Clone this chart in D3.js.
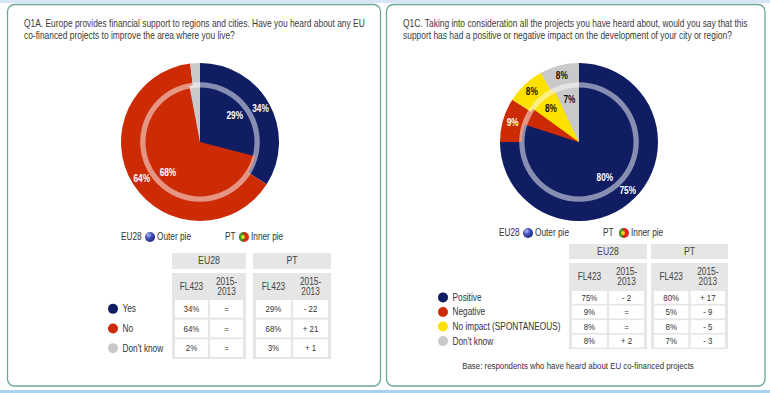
<!DOCTYPE html>
<html><head><meta charset="utf-8">
<script src="https://cdn.jsdelivr.net/npm/d3@7"></script>
<style>
html,body{margin:0;padding:0;background:#fff;}
svg text{font-family:"Liberation Sans",Arial,sans-serif;}
</style></head>
<body><svg id="c" width="770" height="393"></svg>
<script>
// ---- data ----
const q1aTitle = ["Q1A. Europe provides financial support to regions and cities. Have you heard about any EU",
                  "co-financed projects to improve the area where you live?"];
const q1aCategories = ["Yes", "No", "Don't know"];
const q1aEU28 = [34, 64, 2];
const q1aPT = [29, 68, 3];
const q1aEU28Trend = ["=", "=", "="];
const q1aPTTrend = ["- 22", "+ 21", "+ 1"];

const q1cTitle = ["Q1C. Taking into consideration all the projects you have heard about, would you say that this",
                  "support has had a positive or negative impact on the development of your city or region?"];
const q1cCategories = ["Positive", "Negative", "No impact (SPONTANEOUS)", "Don't know"];
const q1cEU28 = [75, 9, 8, 8];
const q1cPT = [80, 5, 8, 7];
const q1cEU28Trend = ["- 2", "=", "=", "+ 2"];
const q1cPTTrend = ["+ 17", "- 9", "- 5", "- 3"];

const groupLabels = ["EU28", "PT"];
const subLabels = ["FL423", "2015-\n2013"];
const baseNote = "Base: respondents who have heard about EU co-financed projects";

const q1aColors = ["#101d63", "#cc2b05", "#c9c9cb"];
const q1cColors = ["#101d63", "#cc2b05", "#fde100", "#c9c9cb"];
const q1cLabelColors = ["#fff", "#fff", "#111", "#111"];

// ---- drawing ----
const svg = d3.select("#c");
const defs = svg.append("defs");
const g1 = defs.append("radialGradient").attr("id","blueball").attr("cx","35%").attr("cy","30%").attr("r","70%");
g1.append("stop").attr("offset","0%").attr("stop-color","#b8c0f0");
g1.append("stop").attr("offset","45%").attr("stop-color","#4a57c0");
g1.append("stop").attr("offset","100%").attr("stop-color","#1d2680");
const clip = defs.append("clipPath").attr("id","flagclip");
clip.append("circle").attr("r",5);

// top & bottom bands
svg.append("rect").attr("x",0).attr("y",0).attr("width",770).attr("height",3).attr("fill","#d6e7f3");
svg.append("rect").attr("x",0).attr("y",390).attr("width",770).attr("height",3).attr("fill","#a9d2ef");

function panel(x0, x1) {
  svg.append("rect").attr("x",x0).attr("y",4.5).attr("width",x1-x0).attr("height",381.5)
    .attr("rx",7).attr("fill","#fff").attr("stroke","#6aa898").attr("stroke-width",1.3);
}
panel(7.5, 380.5);
panel(386.5, 765);

function title(x, lines, len) {
  const t = svg.append("text").attr("x",x).attr("y",27.5).attr("font-size",10).attr("fill","#3a3a3a").attr("data-len",len);
  lines.forEach((l,i)=>t.append("tspan").attr("x",x).attr("dy", i?12:0).text(l));
}
title(24, q1aTitle, 341);
title(403, q1cTitle, 345);

function pies(cx, cy, outer, inner, colors, labelColors) {
  const g = svg.append("g").attr("transform",`translate(${cx},${cy})`);
  const pie = d3.pie().sort(null).value(d=>d);
  const arcO = d3.arc().innerRadius(0).outerRadius(79);
  const arcI = d3.arc().innerRadius(0).outerRadius(57);
  const lblO = d3.arc().innerRadius(69).outerRadius(69);
  const lblI = d3.arc().innerRadius(44).outerRadius(44);
  const po = pie(outer), pi = pie(inner);
  g.selectAll("path.o").data(po).join("path").attr("class","o").attr("d",arcO).attr("fill",(d,i)=>colors[i]);
  g.selectAll("path.i").data(pi).join("path").attr("class","i").attr("d",arcI).attr("fill",(d,i)=>colors[i]);
  g.append("path").attr("d", d3.arc().innerRadius(54.5).outerRadius(59.8).startAngle(0).endAngle(2*Math.PI)())
    .attr("fill","#fff").attr("fill-opacity",0.5);
  const lab = (data, arc) => g.append("g").selectAll("text").data(data.filter(d=>d.data>5)).join("text")
    .attr("transform",d=>`translate(${arc.centroid(d)})`)
    .attr("text-anchor","middle").attr("dy","0.35em")
    .attr("font-size",10).attr("font-weight","bold")
    .attr("fill",d=>labelColors[d.index])
    .text(d=>d.data+"%");
  lab(po, lblO); lab(pi, lblI);
}
pies(200, 142, q1aEU28, q1aPT, q1aColors, ["#fff","#fff","#111"]);
pies(579, 142, q1cEU28, q1cPT, q1cColors, q1cLabelColors);

function flag(x, y) {
  const g = svg.append("g").attr("transform",`translate(${x},${y})`);
  const f = g.append("g").attr("clip-path","url(#flagclip)");
  f.append("rect").attr("x",-5).attr("y",-5).attr("width",10).attr("height",10).attr("fill","#e0261c");
  f.append("rect").attr("x",-5).attr("y",-5).attr("width",4).attr("height",10).attr("fill","#3a9a2a");
  g.append("circle").attr("cx",-1).attr("cy",0).attr("r",2).attr("fill","#f2d21c");
}
function legend(x, y, pos) {
  const t = (xx, s) => svg.append("text").attr("x",xx).attr("y",y+3.5).attr("font-size",10).attr("fill","#333").text(s);
  t(x + pos[0], groupLabels[0]);
  svg.append("circle").attr("cx",x+pos[1]).attr("cy",y).attr("r",5).attr("fill","url(#blueball)");
  t(x + pos[2], "Outer pie");
  t(x + pos[3], groupLabels[1]);
  flag(x+pos[4], y);
  t(x + pos[5], "Inner pie");
}
legend(0, 237, [121, 150, 157, 225, 244, 251]);
legend(0, 233, [499, 528, 535, 603, 624, 631]);

function table(cfg) {
  const {cats, colors, vals, hdrY, hdrH, blockY, blockH, rowY0, rowY1, groups, legX, subY} = cfg;
  const y = d3.scaleBand().domain(cats).range([rowY0, rowY1]).paddingInner(cfg.pad).paddingOuter(0);
  groups.forEach((gr, gi) => {
    svg.append("rect").attr("x",gr.x0).attr("y",hdrY).attr("width",gr.x1-gr.x0).attr("height",hdrH).attr("fill","#e6e6e6");
    svg.append("text").attr("x",(gr.x0+gr.x1)/2).attr("y",hdrY+hdrH/2+3.5).attr("text-anchor","middle")
      .attr("font-size",10.5).attr("fill","#444").text(groupLabels[gi]);
    svg.append("rect").attr("x",gr.x0).attr("y",blockY).attr("width",gr.x1-gr.x0).attr("height",blockH).attr("fill","#e6e6e6");
    const x = d3.scaleBand().domain([0,1]).range([gr.x0+3, gr.x1-3]).paddingInner(0.06);
    [0,1].forEach(ci => {
      const lines = subLabels[ci].split("\n");
      const st = svg.append("text").attr("text-anchor","middle").attr("font-size",10).attr("fill","#444");
      if (lines.length === 1) st.append("tspan").attr("x",x(ci)+x.bandwidth()/2).attr("y",subY+5.5).text(lines[0]);
      else lines.forEach((l,li)=>st.append("tspan").attr("x",x(ci)+x.bandwidth()/2).attr("y",subY+(li?10.5:0)).text(l));
      const colVals = vals[gi][ci];
      cats.forEach((c, ri) => {
        svg.append("rect").attr("x",x(ci)).attr("y",y(c)).attr("width",x.bandwidth()).attr("height",y.bandwidth()).attr("fill","#fff");
        svg.append("text").attr("x",x(ci)+x.bandwidth()/2).attr("y",y(c)+y.bandwidth()/2+3.2)
          .attr("text-anchor","middle").attr("font-size",9.5).attr("fill","#333").text(colVals[ri]);
      });
    });
  });
  cats.forEach((c, ri) => {
    svg.append("circle").attr("cx",legX).attr("cy",y(c)+y.bandwidth()/2).attr("r",5).attr("fill",colors[ri]);
    svg.append("text").attr("x",legX+9.5).attr("y",y(c)+y.bandwidth()/2+3.5).attr("font-size",10).attr("fill","#333").text(c);
  });
}
const pct = a => a.map(v=>v+"%");
table({cats:q1aCategories, colors:q1aColors,
  vals:[[pct(q1aEU28), q1aEU28Trend],[pct(q1aPT), q1aPTTrend]],
  hdrY:253, hdrH:16, blockY:273, blockH:86, rowY0:300, rowY1:357, pad:0.1,
  groups:[{x0:172,x1:246},{x0:253,x1:331}], legX:113, subY:285});
table({cats:q1cCategories, colors:q1cColors,
  vals:[[pct(q1cEU28), q1cEU28Trend],[pct(q1cPT), q1cPTTrend]],
  hdrY:244, hdrH:15, blockY:263, blockH:86, rowY0:291, rowY1:347.5, pad:0.12,
  groups:[{x0:569,x1:647},{x0:651,x1:728}], legX:443, subY:275});

svg.append("text").attr("x",578).attr("y",369).attr("text-anchor","middle").attr("font-size",9.5).attr("fill","#333").text(baseNote);

// condense all text horizontally to mimic the narrow face of the original
const K = 0.83;
svg.selectAll("text").each(function(){
  const el = this;
  const first = el.querySelector("tspan");
  let ax = el.getAttribute("x");
  if (ax == null) ax = first ? first.getAttribute("x") : 0;
  ax = +ax || 0;
  const len = el.getAttribute("data-len");
  const k = len ? +len / (first || el).getComputedTextLength() : K;
  const prev = el.getAttribute("transform") || "";
  el.setAttribute("transform", `${prev} translate(${ax},0) scale(${k},1) translate(${-ax},0)`.trim());
});
</script></body></html>
